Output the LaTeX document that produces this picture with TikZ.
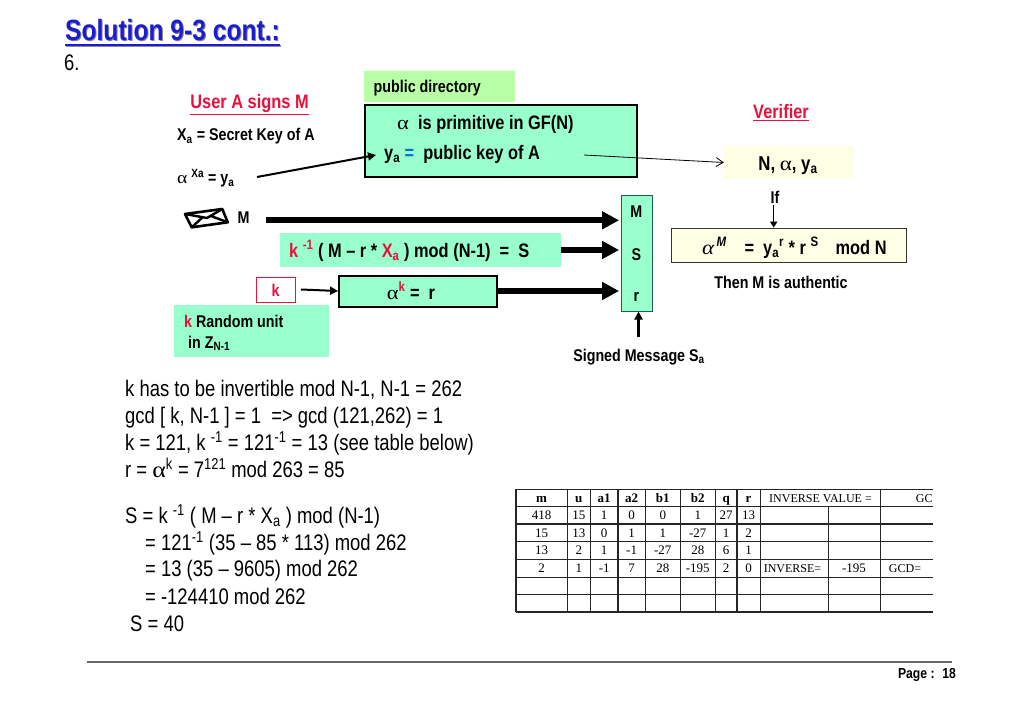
\documentclass[tikz,border=0pt]{standalone}
\usepackage{fontspec}
\setmainfont[FakeStretch=.82]{Liberation Sans}
\newfontfamily\narrowbf[FakeStretch=.84]{Liberation Sans Bold}
\newfontfamily\alphafont[FakeStretch=1.15]{Liberation Serif}
\newfontfamily\tablefont{Liberation Serif}
\usetikzlibrary{arrows.meta,positioning,calc}
\definecolor{SlideGreen}{HTML}{99FFCC}
\definecolor{SlideLime}{HTML}{B9FFA6}
\definecolor{SlideCream}{HTML}{FFFFE6}
\definecolor{SlideRed}{HTML}{E8103C}
\definecolor{SlideBlue}{HTML}{1C1CD0}
\definecolor{SlideSky}{HTML}{0070E0}
\definecolor{SlideEdge}{HTML}{1F5F4A}
\newcommand{\al}{{\alphafont α}}
\newcommand{\rd}[1]{\textcolor{SlideRed}{#1}}
\tikzset{
  lbl/.style={font=\narrowbf\fontsize{17}{20}\selectfont,inner sep=0pt},
  lbll/.style={lbl,anchor=base west},
  big/.style={font=\narrowbf\fontsize{19.5}{22}\selectfont},
  body/.style={font=\fontsize{22.5}{27}\selectfont,inner sep=0pt,anchor=base west},
  cellhead/.style={font=\tablefont\bfseries\fontsize{13}{15}\selectfont,inner sep=0pt,anchor=base},
  cellval/.style={font=\tablefont\fontsize{13}{15}\selectfont,inner sep=0pt,anchor=base},
  celltxt/.style={font=\tablefont\fontsize{12}{15}\selectfont,inner sep=0pt,anchor=base},
  gridline/.style={line width=1.1pt,black!85},
  fat/.style={line width=6pt,shorten >=1.5pt,-{Triangle[length=17pt,width=17pt]}},
}
\begin{document}
\begin{tikzpicture}[x=1pt,y=-1pt]
  \useasboundingbox (0,0) rectangle (1024,711);

  % heading
  \node[font=\narrowbf\fontsize{29.3}{33}\selectfont,text=black!45,inner sep=0pt,anchor=base west] (titleshade) at (66,42) {Solution 9-3 cont.:};
  \draw[line width=2.2pt,black!45] ($(titleshade.base west)+(0,4.3)$) -- ($(titleshade.base east)+(0,4.3)$);
  \node[font=\narrowbf\fontsize{29.3}{33}\selectfont,text=SlideBlue,inner sep=0pt,anchor=base west] (title) at (65,41) {Solution 9-3 cont.:};
  \draw[line width=2.2pt,SlideBlue] ($(title.base west)+(0,4.3)$) -- ($(title.base east)+(0,4.3)$);
  \node[body] (six) at (64,71) {6.};

  % signer
  \node[lbl,big,text=SlideRed] (signer) at (249.5,105) {\underline{User A signs M}};
  \node[lbll] (secret) at (177,141) {X\textsubscript{a} = Secret Key of A};
  \node[lbll] (power) at (177,184) {\al\ \textsuperscript{Xa} = y\textsubscript{a}};

  % public directory
  \node[fill=SlideLime,minimum width=151pt,minimum height=31pt,inner sep=0pt] (pubdir) at (439.5,86.5) {};
  \node[lbll] (pubdirtext) at (373.5,93) {public directory};
  \node[draw=black,line width=2pt,fill=SlideGreen,minimum width=272pt,minimum height=72pt,inner sep=0pt] (pubbox) at (500.5,140.7) {};
  \node[lbll,big] (primitive) at (397,130) {\al\ \ is primitive in GF(N)};
  \node[lbll,big] (pubkey) at (384,159.5) {y\textsubscript{a} \textcolor{SlideSky}{=} \ public key of A};
  \coordinate (powerend) at (257,177);
  \coordinate (pubin) at (376,155);
  \draw[line width=2pt,-{Triangle[length=8pt,width=8pt]}] (powerend) -- (pubin);

  % message
  \draw[line width=2.6pt,line join=round,fill=white] (185,214) -- (222.3,209) -- (227.7,222.3) -- (191.7,227.3) -- cycle;
  \draw[line width=2.4pt] (185,214) -- (207,218) -- (222.3,209) (191.7,227.3) -- (203,217) (227.7,222.3) -- (211,216);
  \node[lbl] (msglabel) at (243.5,218) {M};
  \coordinate (msgstart) at (266,220.3);

  \node[fill=SlideGreen,minimum width=281pt,minimum height=34pt,inner sep=0pt] (sbox) at (420,250) {};
  \node[lbll,big] (stext) at (289,257) {\rd{k} \textsuperscript{\rd{-1}} ( M – r * \rd{X\textsubscript{a}} ) mod (N-1) \ = \ S};

  \node[draw=SlideRed,line width=1pt,fill=white,minimum width=39pt,minimum height=25pt,inner sep=0pt] (kbox) at (276,289.5) {};
  \node[lbl,text=SlideRed] (ktext) at (275.5,290) {k};
  \node[draw=black,line width=2pt,fill=SlideGreen,minimum width=158pt,minimum height=31pt,inner sep=0pt] (rbox) at (418,291) {};
  \node[lbl,big] (rtext) at (411,290.5) {\al\textsuperscript{\rd{k}} = \ r};
  \draw[line width=2pt,-{Triangle[length=8pt,width=8pt]}] (kbox.east) ++(5,0) -- (rbox.west);

  \node[fill=SlideGreen,minimum width=155pt,minimum height=52pt,inner sep=0pt] (kplate) at (251.5,331) {};
  \node[lbll] (knote) at (184,327) {\rd{k} Random unit};
  \node[lbll] (znote) at (188,348) {in Z\textsubscript{N-1}};

  % signed message
  \node[draw=SlideEdge,fill=SlideGreen,minimum width=31pt,minimum height=116pt,inner sep=0pt] (stack) at (636.3,253.3) {};
  \node[lbl] (stackm) at (636.3,212) {M};
  \node[lbl] (stacks) at (636.3,254.5) {S};
  \node[lbl] (stackr) at (636.3,297) {r};
  \draw[fat] (msgstart) -- (stack.west |- msgstart);
  \draw[fat] (sbox.east) -- (stack.west |- sbox.east);
  \draw[fat] (rbox.east) -- (stack.west |- rbox.east);
  \node[lbl] (signed) at (639,357) {Signed Message S\textsubscript{a}};
  \coordinate (signedtop) at (638.5,337);
  \draw[line width=2.5pt,-{Triangle[length=8pt,width=8pt]}] (signedtop) -- (stack.south -| signedtop);

  % verifier
  \node[lbl,big,text=SlideRed] (verifier) at (781,113) {\underline{Verifier}};
  \node[fill=SlideCream,minimum width=130pt,minimum height=33pt,inner sep=0pt] (known) at (789,162.5) {};
  \node[lbl,font=\narrowbf\fontsize{20}{22}\selectfont] (knowntext) at (788,166) {N, \al, y\textsubscript{a}};
  \coordinate (pubout) at (584,155);
  \draw[line width=.8pt,-{Straight Barb[length=7pt,width=9pt]}] (pubout) -- (known.west);
  \node[lbl] (iflabel) at (775,197) {If};
  \node[draw=black!80,line width=.8pt,fill=SlideCream,minimum width=235pt,minimum height=34.5pt,inner sep=0pt] (check) at (789.2,245.3) {};
  \node[lbll,big] (checktext) at (702,254) {{\alphafont\itshape\fontsize{20}{21}\selectfont α}\textsuperscript{\itshape\,M}\hspace{18pt}=\hspace{9pt}y\textsubscript{a}\textsuperscript{r} * r \textsuperscript{S}\hspace{17pt}mod N};
  \coordinate (ifend) at (773.7,205);
  \draw[line width=1.5pt,-{Triangle[length=6pt,width=7pt]}] (ifend) -- (check.north -| ifend);
  \node[lbl] (authentic) at (781,282.5) {Then M is authentic};

  % working
  \node[body] (line1) at (125,396) {k has to be invertible mod N-1, N-1 = 262};
  \node[body] (line2) at (125,423) {gcd [ k, N-1 ] = 1 \ => gcd (121,262) = 1};
  \node[body] (line3) at (125,450.5) {k = 121, k \textsuperscript{-1} = 121\textsuperscript{-1} = 13 (see table below)};
  \node[body] (line4) at (125,477.5) {r = \al\textsuperscript{k} = 7\textsuperscript{121} mod 263 = 85};
  \node[body] (line5) at (125,523) {S = k \textsuperscript{-1} ( M – r * X\textsubscript{a} ) mod (N-1)};
  \node[body] (line6) at (145,550) {= 121\textsuperscript{-1} (35 – 85 * 113) mod 262};
  \node[body] (line7) at (145,576.5) {= 13 (35 – 9605) mod 262};
  \node[body] (line8) at (145,604) {= -124410 mod 262};
  \node[body] (line9) at (130,631) {S = 40};

  % table
  \foreach \gy in {489.3,506.7,524,541.3,559.3,577.3,594.7,612}
    \draw[gridline] (516,\gy) -- (932.7,\gy);
  \foreach \gx in {516,567.3,590.3,618,645.3,680.3,715.3,737,760.3,880.7}
    \draw[gridline] (\gx,489.3) -- (\gx,612);
  \draw[gridline] (828.3,506.7) -- (828.3,612);
  \foreach \cx/\txt [count=\c] in {541.6/m,578.8/u,604.2/a1,631.6/a2,662.8/b1,697.8/b2,726.2/q,748.6/r}
    \node[cellhead] (head\c) at (\cx,502) {\txt};
  \node[celltxt] (headinv) at (820.5,502) {INVERSE VALUE =};
  \node[celltxt,anchor=base east] (headgc) at (932.7,502) {GC};
  \foreach \ry/\a/\b/\d/\e/\f/\g/\h/\i [count=\rw] in {
      519.5/418/15/1/0/0/1/27/13,
      537/15/13/0/1/1/-27/1/2,
      554.3/13/2/1/-1/-27/28/6/1,
      572/2/1/-1/7/28/-195/2/0}
    \foreach \cx/\val [count=\c] in {541.6/\a,578.8/\b,604.2/\d,631.6/\e,662.8/\f,697.8/\g,726.2/\h,748.6/\i}
      \node[cellval] (cell\rw-\c) at (\cx,\ry) {\val};
  \node[celltxt] (invlabel) at (792.5,572) {INVERSE=};
  \node[cellval] (invvalue) at (854,572) {-195};
  \node[celltxt] (gcdlabel) at (905,572) {GCD=};

  % footer
  \coordinate (footl) at (87,662);
  \coordinate (footr) at (952,662);
  \draw[line width=1.3pt,black!60] (footl) -- (footr);
  \node[lbl,font=\narrowbf\fontsize{14.5}{18}\selectfont] (page) at (927,675) {Page : \ 18};
\end{tikzpicture}
\end{document}
